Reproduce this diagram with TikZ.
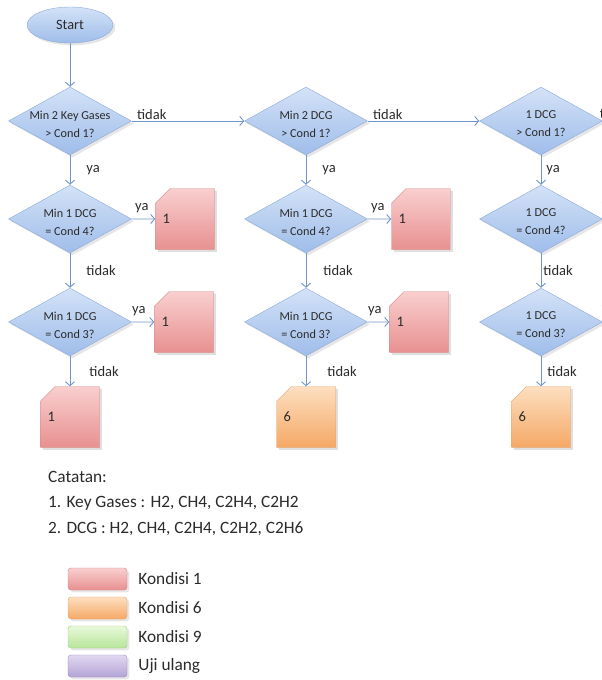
\documentclass[tikz,border=0pt]{standalone}
\usepackage{fontspec}
\setmainfont{Carlito}
\usetikzlibrary{calc}
\usetikzlibrary{positioning}
\usetikzlibrary{shapes.geometric}
\usetikzlibrary{shapes.misc}
\usetikzlibrary{shadows}
\usetikzlibrary{arrows.meta}
\definecolor{lineBlue}{HTML}{6F95C9}
\definecolor{textGray}{HTML}{2B2B2B}
\definecolor{condTop}{HTML}{D3E2F7}
\definecolor{condBot}{HTML}{9FBDEA}
\definecolor{condLine}{HTML}{8DA9D8}
\definecolor{kOneTop}{HTML}{F9CFCF}
\definecolor{kOneBot}{HTML}{E89090}
\definecolor{kOneLine}{HTML}{D08584}
\definecolor{kSixTop}{HTML}{FDDFC0}
\definecolor{kSixBot}{HTML}{F5A865}
\definecolor{kSixLine}{HTML}{E5A570}
\definecolor{kNineTop}{HTML}{E8F9DA}
\definecolor{kNineBot}{HTML}{B7E59A}
\definecolor{kNineLine}{HTML}{9DCE7E}
\definecolor{ujiTop}{HTML}{E1D8F0}
\definecolor{ujiBot}{HTML}{B3A3D6}
\definecolor{ujiLine}{HTML}{9A89C3}
\tikzstyle{startnode} = [ellipse, draw=condLine, top color=condTop, bottom color=condBot, minimum width=86pt, minimum height=36pt, inner sep=0pt, font=\fontsize{14.3}{16}\selectfont, text=textGray, drop shadow={opacity=0.2}]
\tikzstyle{condnode} = [diamond, draw=condLine, top color=condTop, bottom color=condBot, minimum width=123pt, minimum height=68pt, inner sep=0pt, drop shadow={opacity=0.2}]
\tikzstyle{condtext} = [align=center, font=\fontsize{12.2}{18}\selectfont, text=textGray, yshift=-3pt]
\tikzstyle{resnode} = [chamfered rectangle, chamfered rectangle corners=north west, chamfered rectangle xsep=10pt, chamfered rectangle ysep=10pt, minimum width=59pt, minimum height=61pt, inner xsep=0pt, inner ysep=0pt, text width=45pt, align=left, font=\fontsize{14.5}{16}\selectfont, text=textGray, drop shadow={opacity=0.25}]
\tikzstyle{legnode} = [rectangle, rounded corners=3pt, minimum width=59pt, minimum height=22pt, drop shadow={opacity=0.2}]
\tikzstyle{colorKOne} = [draw=kOneLine, top color=kOneTop, bottom color=kOneBot]
\tikzstyle{colorKSix} = [draw=kSixLine, top color=kSixTop, bottom color=kSixBot]
\tikzstyle{colorKNine} = [draw=kNineLine, top color=kNineTop, bottom color=kNineBot]
\tikzstyle{colorUji} = [draw=ujiLine, top color=ujiTop, bottom color=ujiBot]
\tikzstyle{flow} = [draw=lineBlue, line width=0.9pt, -{Straight Barb[length=4pt,width=9pt]}]
\tikzstyle{lbl} = [font=\fontsize{14.5}{16}\selectfont, text=textGray, inner sep=1pt]
\tikzstyle{notetext} = [font=\fontsize{17.3}{25.5}\selectfont, text=textGray, inner sep=0pt]

\begin{document}
\begin{tikzpicture}[x=1pt, y=1pt]
    \clip (0,0) rectangle (602,-680);

    \node[startnode] (start) at (70,-25) {Start};
    \node[condnode, label={[condtext]center:Min 2 Key Gases\\> Cond 1?}] (kg1) at ($(start)+(0,-96)$) {};
    \node[condnode, label={[condtext]center:Min 1 DCG\\= Cond 4?}] (kg4) at ($(kg1)+(0,-98)$) {};
    \node[condnode, label={[condtext]center:Min 1 DCG\\= Cond 3?}] (kg3) at ($(kg4)+(0,-103)$) {};
    \node[resnode, colorKOne] (res_kg4) at ($(kg4)+(115,0)$) {1};
    \node[resnode, colorKOne] (res_kg3) at ($(kg3)+(114,0)$) {1};
    \node[resnode, colorKOne] (res_kg) at ($(kg3)+(0,-95)$) {1};
    \draw[flow] (start) -- (kg1);
    \draw[flow] (kg1) -- node[lbl, right=15pt] {ya} (kg4);
    \draw[flow] (kg4) -- node[lbl, right=15pt] {tidak} (kg3);
    \draw[flow] (kg3) -- node[lbl, right=18pt] {tidak} (res_kg);
    \draw[flow] (kg4) -- node[lbl, anchor=south west, pos=0, xshift=2pt, yshift=5pt] {ya} (res_kg4);
    \draw[flow] (kg3) -- node[lbl, anchor=south west, pos=0, xshift=-1pt, yshift=5pt] {ya} (res_kg3);

    \node[condnode, label={[condtext]center:Min 2 DCG\\> Cond 1?}] (dcg1) at ($(kg1)+(236,0)$) {};
    \node[condnode, label={[condtext]center:Min 1 DCG\\= Cond 4?}] (dcg4) at ($(dcg1)+(0,-98)$) {};
    \node[condnode, label={[condtext]center:Min 1 DCG\\= Cond 3?}] (dcg3) at ($(dcg4)+(0,-103)$) {};
    \node[resnode, colorKOne] (res_dcg4) at ($(dcg4)+(115,0)$) {1};
    \node[resnode, colorKOne] (res_dcg3) at ($(dcg3)+(113,0)$) {1};
    \node[resnode, colorKSix] (res_dcg) at ($(dcg3)+(0,-95)$) {6};
    \draw[flow] (kg1) -- node[lbl, anchor=south west, pos=0, xshift=4pt] {tidak} (dcg1);
    \draw[flow] (dcg1) -- node[lbl, right=15pt] {ya} (dcg4);
    \draw[flow] (dcg4) -- node[lbl, right=16pt] {tidak} (dcg3);
    \draw[flow] (dcg3) -- node[lbl, right=20pt] {tidak} (res_dcg);
    \draw[flow] (dcg4) -- node[lbl, anchor=south west, pos=0, xshift=2pt, yshift=5pt] {ya} (res_dcg4);
    \draw[flow] (dcg3) -- node[lbl, anchor=south west, pos=0, xshift=-1pt, yshift=5pt] {ya} (res_dcg3);

    \node[condnode, label={[condtext]center:1 DCG\\> Cond 1?}] (one1) at ($(dcg1)+(235,0)$) {};
    \node[condnode, label={[condtext]center:1 DCG\\= Cond 4?}] (one4) at ($(one1)+(0,-98)$) {};
    \node[condnode, label={[condtext]center:1 DCG\\= Cond 3?}] (one3) at ($(one4)+(0,-103)$) {};
    \node[resnode, colorKSix] (res_one) at ($(one3)+(0,-95)$) {6};
    \draw[flow] (dcg1) -- node[lbl, anchor=south west, pos=0, xshift=4pt] {tidak} (one1);
    \draw[flow] (one1) -- node[lbl, right=4pt] {ya} (one4);
    \draw[flow] (one4) -- node[lbl, right=1pt] {tidak} (one3);
    \draw[flow] (one3) -- node[lbl, right=5pt] {tidak} (res_one);
    \node[lbl, anchor=south west] (one1_no) at ($(one1.east)+(-4,1)$) {tidak};
    \node[lbl, anchor=south west] (one4_yes) at ($(one4.east)+(-2,6)$) {ya};
    \node[lbl, anchor=south west] (one3_yes) at ($(one3.east)+(-2,6)$) {ya};

    \node[notetext, anchor=north west, align=left] (notes) at (48,-471) {Catatan:\\1. Key Gases : H2, CH4, C2H4, C2H2\\2. DCG : H2, CH4, C2H4, C2H2, C2H6};

    \node[legnode, colorKOne] (leg1) at (97.5,-579) {};
    \node[legnode, colorKSix] (leg6) at ($(leg1)+(0,-29)$) {};
    \node[legnode, colorKNine] (leg9) at ($(leg6)+(0,-29)$) {};
    \node[legnode, colorUji] (legu) at ($(leg9)+(0,-29)$) {};
    \node[notetext, right=11pt of leg1] (leg1_txt) {Kondisi 1};
    \node[notetext, right=11pt of leg6] (leg6_txt) {Kondisi 6};
    \node[notetext, right=11pt of leg9] (leg9_txt) {Kondisi 9};
    \node[notetext, right=11pt of legu] (legu_txt) {Uji ulang};
\end{tikzpicture}
\end{document}
